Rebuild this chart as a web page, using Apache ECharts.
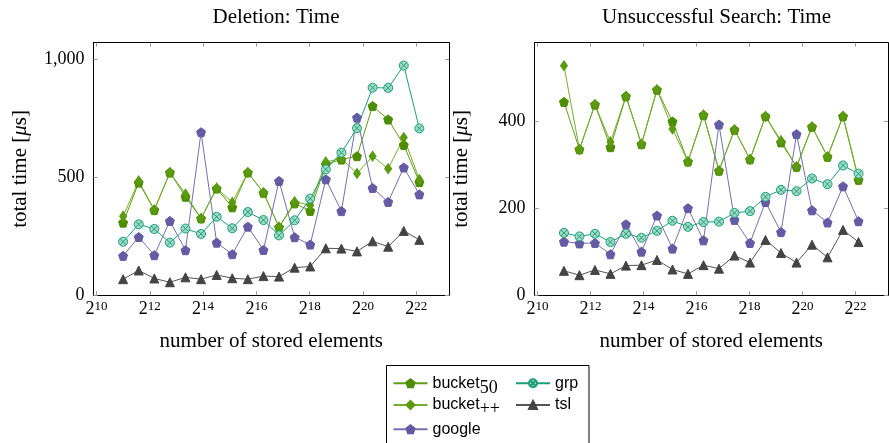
<!DOCTYPE html>
<html><head><meta charset="utf-8">
<script src="https://cdn.jsdelivr.net/npm/echarts@6/dist/echarts.min.js"></script>
<style>html,body{margin:0;padding:0;background:#fff}#c{width:889px;height:443px}</style>
</head><body><div id="c"></div>
<script>
// number of stored elements (x values)
const sizes = [2048, 3072, 4608, 6912, 10368, 15552, 23328, 34992, 52488, 78732, 118098, 177147, 265721, 398581, 597871, 896807, 1345211, 2017816, 3026724, 4540086];
// x tick exponents (labels 2^k)
const xTickExp = [10, 12, 14, 16, 18, 20, 22];

// Deletion: Time  (total time in µs)
const delBucket50 = [308, 478, 362, 521, 418, 326, 453, 373, 521, 435, 289, 390, 358, 556, 576, 590, 803, 746, 638, 480];
const delBucketPP = [335, 485, 362, 521, 429, 326, 455, 394, 521, 436, 289, 397, 382, 566, 580, 517, 590, 537, 669, 491];
const delGoogle   = [167, 247, 170, 315, 191, 692, 223, 174, 291, 192, 485, 246, 215, 492, 357, 754, 455, 396, 542, 428];
const delGrp      = [227, 301, 281, 223, 283, 260, 333, 284, 353, 319, 254, 318, 410, 534, 605, 709, 881, 880, 975, 708];
const delTsl      = [68, 105, 71, 55, 76, 68, 86, 72, 68, 81, 79, 117, 122, 199, 198, 186, 229, 206, 273, 235];
const delYTicks   = [0, 500, 1000];

// Unsuccessful Search: Time
const srchBucket50 = [444, 335, 438, 340, 457, 347, 472, 399, 307, 414, 286, 380, 312, 411, 351, 295, 387, 318, 411, 265];
const srchBucketPP = [527, 335, 438, 352, 457, 347, 472, 382, 307, 414, 286, 380, 312, 411, 355, 295, 387, 318, 411, 268];
const srchGoogle   = [123, 119, 120, 94, 163, 100, 183, 107, 200, 126, 392, 173, 120, 214, 145, 370, 195, 167, 250, 170];
const srchGrp      = [143, 135, 141, 122, 141, 132, 148, 171, 157, 168, 169, 189, 193, 226, 242, 239, 268, 255, 298, 279];
const srchTsl      = [56, 46, 58, 49, 68, 69, 81, 59, 49, 69, 61, 91, 75, 127, 97, 75, 116, 87, 150, 122];
const srchYTicks   = [0, 200, 400];

const seriesNames = ['bucket50', 'bucket++', 'google', 'grp', 'tsl'];

const SERIF = 'Liberation Serif';
const SANS = 'Liberation Sans';
const PENT = 'path://M0,-1 L0.951,-0.309 L0.588,0.809 L-0.588,0.809 L-0.951,-0.309 Z';
const OTIMES = 'path://M1,0 A1,1 0 1,1 -1,0 A1,1 0 1,1 1,0 Z M-0.707,-0.707 L0.707,0.707 M-0.707,0.707 L0.707,-0.707';

const styles = {
  'bucket50': {line: '#5e9d14', fill: '#4d8c00', border: '#4d8c00', symbol: PENT, size: 9},
  'bucket++': {line: '#74b02e', fill: '#5c9a10', border: '#5c9a10', symbol: 'diamond', size: [7, 10]},
  'google':   {line: '#7570b3', fill: '#635ca4', border: '#635ca4', symbol: PENT, size: 9},
  'grp':      {line: '#1b9e77', fill: '#a3dac6', border: '#1b9e77', symbol: OTIMES, size: 9},
  'tsl':      {line: '#555555', fill: '#444444', border: '#444444', symbol: 'triangle', size: 9}
};

const xMin = 9.889, xMax = 23.226;
const grids = [
  {left: 93.5, top: 42.7, width: 355.5, height: 252.5},
  {left: 534.5, top: 42.7, width: 353.5, height: 252.5}
];

const tickStyle = {show: true, inside: true, length: 4, lineStyle: {color: '#999', width: 1}};
const frameLine = {show: true, onZero: false, lineStyle: {color: '#000', width: 1}};

function xAxesFor(g) {
  return [{
    type: 'value', gridIndex: g, min: xMin, max: xMax, position: 'bottom',
    axisLine: frameLine, splitLine: {show: false},
    axisTick: Object.assign({customValues: xTickExp}, tickStyle),
    axisLabel: {
      customValues: xTickExp, margin: 5, color: '#000',
      formatter: v => '{b|2}{e|' + v + '}',
      rich: {
        b: {fontFamily: SERIF, fontSize: 18, lineHeight: 18, verticalAlign: 'bottom', color: '#000'},
        e: {fontFamily: SERIF, fontSize: 13, lineHeight: 13, verticalAlign: 'top', color: '#000'}
      }
    },
    name: 'number of stored elements', nameLocation: 'middle', nameGap: 36,
    nameTextStyle: {fontFamily: SERIF, fontSize: 21, color: '#000'}
  }, {
    type: 'value', gridIndex: g, min: xMin, max: xMax, position: 'top',
    axisLine: frameLine, splitLine: {show: false},
    axisTick: Object.assign({customValues: xTickExp}, tickStyle),
    axisLabel: {show: false}
  }];
}
function yAxesFor(g, max, ticks) {
  return [{
    type: 'value', gridIndex: g, min: 0, max: max, position: 'left',
    axisLine: frameLine, splitLine: {show: false},
    axisTick: Object.assign({customValues: ticks}, tickStyle),
    axisLabel: {customValues: ticks, margin: 9, color: '#000', fontFamily: SERIF, fontSize: 18,
      formatter: v => v.toLocaleString('en-US')},
    name: '{r|total time [}{i|μ}{r|s]}', nameLocation: 'middle', nameGap: 63, nameRotate: 90,
    nameTextStyle: {color: '#000', rich: {
      r: {fontFamily: SERIF, fontSize: 21, color: '#000'},
      i: {fontFamily: SERIF, fontSize: 21, fontStyle: 'italic', color: '#000'}
    }}
  }, {
    type: 'value', gridIndex: g, min: 0, max: max, position: 'right',
    axisLine: frameLine, splitLine: {show: false},
    axisTick: Object.assign({customValues: ticks}, tickStyle),
    axisLabel: {show: false}
  }];
}

function makeSeries(name, vals, g) {
  const s = styles[name];
  return {
    type: 'line', name: name, xAxisIndex: g * 2, yAxisIndex: g * 2,
    data: sizes.map((n, i) => [Math.log2(n), vals[i]]),
    symbol: s.symbol, symbolSize: s.size, showAllSymbol: true,
    lineStyle: {color: s.line, width: 1},
    itemStyle: {color: s.fill, borderColor: s.border, borderWidth: 1, opacity: 1},
    emphasis: {disabled: true}, animation: false, z: 2
  };
}

const delData = [delBucket50, delBucketPP, delGoogle, delGrp, delTsl];
const srchData = [srchBucket50, srchBucketPP, srchGoogle, srchGrp, srchTsl];
const series = [];
seriesNames.forEach((n, i) => series.push(makeSeries(n, delData[i], 0)));
seriesNames.forEach((n, i) => series.push(makeSeries(n, srchData[i], 1)));

const legendRich = {
  a: {fontFamily: SANS, fontSize: 16, lineHeight: 16, color: '#000'},
  s: {fontFamily: SERIF, fontSize: 18, lineHeight: 18, padding: [9, 0, 0, 0], color: '#000'}
};
function legendFmt(name) {
  if (name === 'bucket50') return '{a|bucket}{s|50}';
  if (name === 'bucket++') return '{a|bucket}{s|++}';
  return '{a|' + name + '}';
}
const legendPos = {
  'bucket50': [392.5, 369.8],
  'bucket++': [392.5, 391.5],
  'google':   [392.5, 421.3],
  'grp':      [515, 375.3],
  'tsl':      [515, 397]
};
const legends = seriesNames.map(n => ({
  data: [n], left: legendPos[n][0], top: legendPos[n][1], padding: 0,
  itemWidth: 34, itemHeight: 10, itemGap: 0, selectedMode: false,
  formatter: legendFmt, textStyle: {rich: legendRich, color: '#000'}
}));

const option = {
  backgroundColor: '#fff',
  animation: false,
  title: [
    {text: 'Deletion: Time', left: 271, top: 2, textAlign: 'center',
     textStyle: {fontFamily: SERIF, fontSize: 21, fontWeight: 'normal', color: '#000'}},
    {text: 'Unsuccessful Search: Time', left: 711.5, top: 2, textAlign: 'center',
     textStyle: {fontFamily: SERIF, fontSize: 21, fontWeight: 'normal', color: '#000'}}
  ],
  grid: grids,
  xAxis: xAxesFor(0).concat(xAxesFor(1)),
  yAxis: yAxesFor(0, 1072, delYTicks).concat(yAxesFor(1, 580, srchYTicks)),
  legend: legends,
  graphic: [{
    type: 'rect', shape: {x: 386.5, y: 365.5, width: 202.5, height: 100},
    style: {fill: 'none', stroke: '#000', lineWidth: 1}, z: 0, silent: true
  }],
  series: series
};
const chart = echarts.init(document.getElementById('c'), null, {renderer: 'canvas'});
chart.setOption(option);
</script>
</body></html>
